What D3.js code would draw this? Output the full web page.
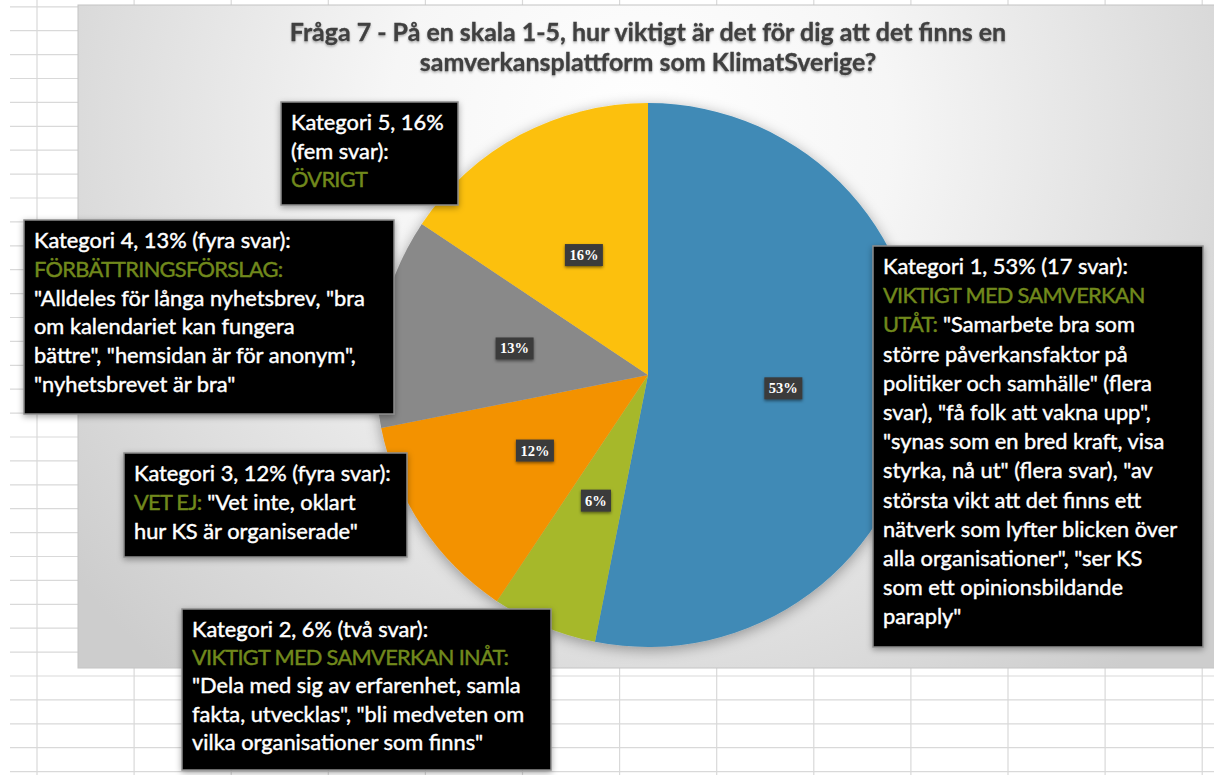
<!DOCTYPE html>
<html>
<head>
<meta charset="utf-8">
<script src="https://cdn.jsdelivr.net/npm/d3@7"></script>
<style>
  body { margin: 0; background: #fff; }
  svg { display: block; }
</style>
</head>
<body>
<div id="chart"></div>
<script>
// data
var categories = ["Kategori 1", "Kategori 2", "Kategori 3", "Kategori 4", "Kategori 5"];
var answers = [17, 2, 4, 4, 5];
var pctLabels = ["53%", "6%", "12%", "13%", "16%"];
var sliceColors = ["#408ab6", "#a6b82b", "#f39200", "#898989", "#fcc00e"];

var titleLines = [
  "Fråga 7 - På en skala 1-5, hur viktigt är det för dig att det finns en",
  "samverkansplattform som KlimatSverige?"
];

// callout texts, one list of lines per category; g = green heading part
var calloutText = [
  [
    [{t: "Kategori 1, 53% (17 svar):"}],
    [{t: "VIKTIGT MED SAMVERKAN", g: 1}],
    [{t: "UTÅT:", g: 1}, {t: " \"Samarbete bra som"}],
    [{t: "större påverkansfaktor på"}],
    [{t: "politiker och samhälle\" (flera"}],
    [{t: "svar), \"få folk att vakna upp\","}],
    [{t: "\"synas som en bred kraft, visa"}],
    [{t: "styrka, nå ut\" (flera svar), \"av"}],
    [{t: "största vikt att det finns ett"}],
    [{t: "nätverk som lyfter blicken över"}],
    [{t: "alla organisationer\", \"ser KS"}],
    [{t: "som ett opinionsbildande"}],
    [{t: "paraply\""}]
  ],
  [
    [{t: "Kategori 2, 6% (två svar):"}],
    [{t: "VIKTIGT MED SAMVERKAN INÅT:", g: 1}],
    [{t: "\"Dela med sig av erfarenhet, samla"}],
    [{t: "fakta, utvecklas\", \"bli medveten om"}],
    [{t: "vilka organisationer som finns\""}]
  ],
  [
    [{t: "Kategori 3, 12% (fyra svar):"}],
    [{t: "VET EJ:", g: 1}, {t: " \"Vet inte, oklart"}],
    [{t: "hur KS är organiserade\""}]
  ],
  [
    [{t: "Kategori 4, 13% (fyra svar):"}],
    [{t: "FÖRBÄTTRINGSFÖRSLAG:", g: 1}],
    [{t: "\"Alldeles för långa nyhetsbrev, \"bra"}],
    [{t: "om kalendariet kan fungera"}],
    [{t: "bättre\", \"hemsidan är för anonym\","}],
    [{t: "\"nyhetsbrevet är bra\""}]
  ],
  [
    [{t: "Kategori 5, 16%"}],
    [{t: "(fem svar):"}],
    [{t: "ÖVRIGT", g: 1}]
  ]
];

// where the callout boxes sit
var boxLayout = [
  {x: 873, y: 246, w: 330, h: 401, lh: 29.2},
  {x: 182, y: 609, w: 369, h: 161, lh: 28.2},
  {x: 124, y: 453, w: 283, h: 104, lh: 29},
  {x: 24,  y: 220, w: 370, h: 194, lh: 28.8},
  {x: 281, y: 102, w: 177, h: 103, lh: 28.5}
];

var W = 1214, H = 775;
var fontFam = "Lato, 'Open Sans', sans-serif";
var green = "#71891c";

var svg = d3.select("#chart").append("svg")
  .attr("width", W)
  .attr("height", H);

var defs = svg.append("defs");

var grad = defs.append("radialGradient")
  .attr("id", "bg")
  .attr("gradientUnits", "userSpaceOnUse")
  .attr("cx", 640).attr("cy", 130).attr("r", 720);
grad.append("stop").attr("offset", "0%").attr("stop-color", "#ffffff");
grad.append("stop").attr("offset", "35%").attr("stop-color", "#f6f6f6");
grad.append("stop").attr("offset", "100%").attr("stop-color", "#cdcdcd");

function shadow(id, blur, dy, op) {
  var f = defs.append("filter").attr("id", id)
    .attr("x", "-20%").attr("y", "-20%").attr("width", "140%").attr("height", "140%");
  f.append("feDropShadow")
    .attr("dx", 0).attr("dy", dy)
    .attr("stdDeviation", blur)
    .attr("flood-color", "#000")
    .attr("flood-opacity", op);
}
shadow("pieShadow", 7, 3, 0.35);
shadow("boxShadow", 3, 2, 0.35);
shadow("lblShadow", 1.5, 1.5, 0.5);
shadow("titleShadow", 1, 1.5, 0.3);

// spreadsheet grid behind the chart
var gridG = svg.append("g");
d3.range(0, 33).forEach(function(k) {
  var y = 6.8 + 23.9 * k;
  gridG.append("line")
    .attr("x1", 10).attr("x2", W)
    .attr("y1", y).attr("y2", y)
    .attr("stroke", "#d9d9d9").attr("stroke-width", 1.2);
});
d3.range(0, 13).forEach(function(k) {
  var x = 37 + 97.1 * k;
  gridG.append("line")
    .attr("x1", x).attr("x2", x)
    .attr("y1", 0).attr("y2", H)
    .attr("stroke", "#d9d9d9").attr("stroke-width", 1.2);
});

// chart area
svg.append("rect")
  .attr("x", 78).attr("y", 5)
  .attr("width", W - 78 + 5).attr("height", 663)
  .attr("fill", "url(#bg)")
  .attr("stroke", "#c4c4c4");

// helper: find a font size that makes a string a given width
var measure = svg.append("text").attr("font-family", fontFam).attr("x", -999).attr("y", -999);
function fitSize(str, weight, target, base) {
  measure.attr("font-weight", weight).attr("font-size", base).text(str);
  var w = measure.node().getComputedTextLength();
  return base * target / w;
}

var titleSize = fitSize(titleLines[0], "bold", 717, 22);
var boxSize = fitSize(calloutText[0][0][0].t, "normal", 245, 22);
measure.remove();

// title
svg.append("g")
  .attr("filter", "url(#titleShadow)")
  .selectAll("text")
  .data(titleLines)
  .enter()
  .append("text")
    .attr("x", 648)
    .attr("y", function(d, i) { return 41 + i * 30; })
    .attr("text-anchor", "middle")
    .attr("font-family", fontFam)
    .attr("font-weight", "bold")
    .attr("font-size", titleSize)
    .attr("fill", "#404040")
    .attr("stroke", "#404040")
    .attr("stroke-width", 0.3)
    .text(function(d) { return d; });

// pie
var cx = 648, cy = 375, R = 272;
var pie = d3.pie().sort(null).value(function(d) { return d; });
var arc = d3.arc().innerRadius(0).outerRadius(R);
var arcs = pie(answers);

var pieG = svg.append("g")
  .attr("transform", "translate(" + cx + "," + cy + ")");

pieG.append("g")
  .attr("filter", "url(#pieShadow)")
  .selectAll("path")
  .data(arcs)
  .enter()
  .append("path")
    .attr("d", arc)
    .attr("fill", function(d, i) { return sliceColors[i]; });

// percentage labels in small dark boxes
var lbl = pieG.selectAll(".pct")
  .data(arcs)
  .enter()
  .append("g")
    .attr("class", "pct")
    .attr("transform", function(d) { return "translate(" + arc.centroid(d) + ")"; });

lbl.append("rect")
  .attr("x", function(d, i) { return pctLabels[i].length > 2 ? -19 : -15; })
  .attr("y", -11)
  .attr("width", function(d, i) { return pctLabels[i].length > 2 ? 38 : 30; })
  .attr("height", 22)
  .attr("fill", "#3b3b3b")
  .attr("filter", "url(#lblShadow)");

lbl.append("text")
  .attr("text-anchor", "middle")
  .attr("y", 5)
  .attr("font-family", "'Liberation Serif', 'DejaVu Serif', serif")
  .attr("font-weight", "bold")
  .attr("font-size", 14.5)
  .attr("fill", "#fff")
  .text(function(d, i) { return pctLabels[i]; });

// callout boxes
var boxes = svg.selectAll(".callout")
  .data(boxLayout)
  .enter()
  .append("g")
    .attr("class", "callout");

boxes.append("rect")
  .attr("x", function(d) { return d.x; })
  .attr("y", function(d) { return d.y; })
  .attr("width", function(d) { return d.w; })
  .attr("height", function(d) { return d.h; })
  .attr("fill", "#000")
  .attr("stroke", "#8c8c8c")
  .attr("stroke-width", 1.5)
  .attr("filter", "url(#boxShadow)");

boxes.each(function(b, i) {
  var g = d3.select(this);
  calloutText[i].forEach(function(line, j) {
    var t = g.append("text")
      .attr("x", b.x + 10)
      .attr("y", b.y + 28 + j * b.lh)
      .attr("font-family", fontFam)
      .attr("font-size", boxSize)
      .attr("xml:space", "preserve");
    line.forEach(function(seg) {
      var c = seg.g ? green : "#ffffff";
      t.append("tspan")
        .attr("fill", c)
        .attr("stroke", c)
        .attr("stroke-width", 0.45)
        .attr("letter-spacing", seg.g ? -0.7 : 0)
        .text(seg.t);
    });
  });
});
</script>
</body>
</html>
